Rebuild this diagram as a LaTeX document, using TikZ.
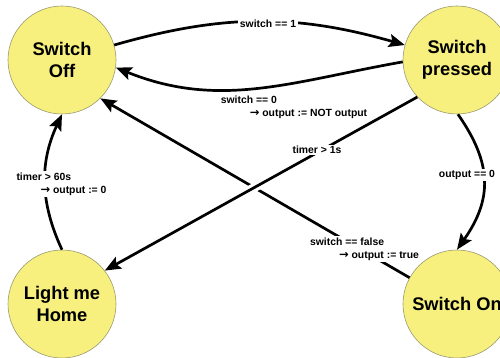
\documentclass[tikz,border=0pt]{standalone}
\usepackage{fontspec}
\setmainfont{Liberation Sans}
\newfontfamily\arrowfont{DejaVu Sans}
\usetikzlibrary{arrows.meta,calc}

\definecolor{statefill}{HTML}{F7F07F}
\definecolor{stateline}{HTML}{9A9A70}

% implication arrow used in the action lines
\newcommand{\then}{{\arrowfont\fontsize{11.5}{13}\selectfont →}}

\tikzset{
  state/.style={circle, minimum size=108pt, inner sep=0pt, fill=statefill,
    draw=stateline, line width=0.6pt, align=center,
    font=\fontsize{18.3}{22}\selectfont\bfseries},
  trans/.style={line width=2.7pt, -{Stealth[length=16pt,width=13pt,inset=3pt]}},
  gap/.style={white, line width=9pt},
  lbl/.style={fill=white, inner sep=1.5pt, align=left,
    font=\fontsize{10.4}{13}\selectfont\bfseries}
}

\begin{document}
\begin{tikzpicture}[x=1pt,y=1pt]
  \useasboundingbox (0,0) rectangle (500,358);

  % states
  \node[state] (off)     at (62,298)  {Switch\\Off};
  \node[state] (pressed) at (457,298) {Switch\\pressed};
  \node[state] (home)    at (62,54)   {Light me\\Home};
  \node[state] (on)      at (457,54)  {Switch On};

  % transitions
  \draw[trans] (off) to[out=16,in=164] (pressed);
  \draw[trans] (pressed.182) to[out=190,in=-22] (off.-8);
  \draw[trans] (on.151) -- (off.-45);
  \draw[gap] ($(pressed.223)!0.49!(home.38)$) -- ($(pressed.223)!0.555!(home.38)$);
  \draw[trans] (pressed.223) -- (home.38);
  \draw[trans] (home.north) to[out=115,in=245] (off.south);
  \draw[trans] (pressed.-89) to[out=-55,in=55,looseness=1.15] (on.north);

  % transition labels
  \node[lbl] (lone)   at (268,334) {switch == 1};
  \node[lbl] (lzero)  at (294,251) {switch == 0\\\hspace*{29pt}\then{} output := NOT output};
  \node[lbl] (lsec)   at (317,208) {timer > 1s};
  \node[lbl] (lfalse) at (364.5,109) {switch == false\\\hspace*{29pt}\then{} output := true};
  \node[lbl] (lmin)   at (61.5,174) {timer > 60s\\\hspace*{24pt}\then{} output := 0};
  \node[lbl] (lout)   at (467,183) {output == 0};
\end{tikzpicture}
\end{document}
